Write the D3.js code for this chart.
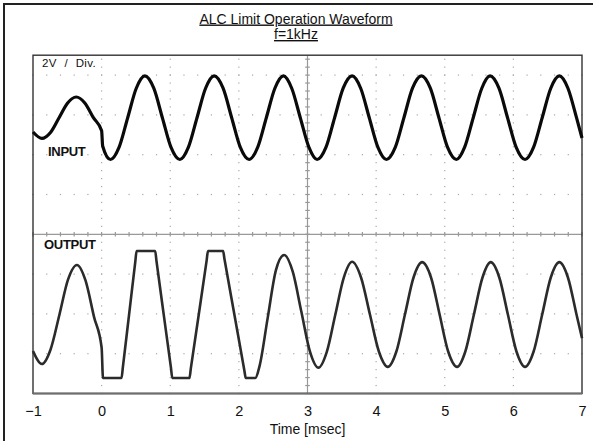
<!DOCTYPE html>
<html>
<head>
<meta charset="utf-8">
<script src="https://cdn.jsdelivr.net/npm/d3@7"></script>
<style>
  body { margin: 0; background: #fff; }
  text { font-family: "Liberation Sans", Arial, sans-serif; fill: #111; }
</style>
</head>
<body>
<svg id="chart" width="593" height="441"></svg>
<script>
// time in msec, amplitude in screen divisions (2V / Div.)
const xTicks = [-1, 0, 1, 2, 3, 4, 5, 6, 7];
const gridX = [0, 1, 2, 4, 5, 6];
const gridY = [-3, -2, -1, 1, 2, 3, 4];

const inputWave = [
  [-1.00, 2.57], [-0.87, 2.41], [-0.745, 2.56], [-0.62, 2.93], [-0.495, 3.30],
  [-0.37, 3.45], [-0.245, 3.30], [-0.12, 2.93], [0.00, 2.60],
  [0.015, 2.22], [0.13, 1.88], [0.255, 2.19], [0.38, 2.93], [0.505, 3.67], [0.63, 3.98],
  [0.76, 3.67], [0.885, 2.93], [1.01, 2.19], [1.14, 1.88],
  [1.265, 2.19], [1.39, 2.93], [1.515, 3.67], [1.64, 3.98],
  [1.77, 3.67], [1.895, 2.93], [2.02, 2.19], [2.15, 1.88],
  [2.275, 2.19], [2.40, 2.93], [2.525, 3.67], [2.65, 3.98],
  [2.77, 3.67], [2.895, 2.93], [3.02, 2.19], [3.14, 1.88],
  [3.27, 2.19], [3.395, 2.93], [3.52, 3.67], [3.65, 3.98],
  [3.775, 3.67], [3.90, 2.93], [4.025, 2.19], [4.15, 1.88],
  [4.28, 2.19], [4.405, 2.93], [4.53, 3.67], [4.66, 3.98],
  [4.79, 3.67], [4.915, 2.93], [5.04, 2.19], [5.17, 1.88],
  [5.29, 2.19], [5.415, 2.93], [5.54, 3.67], [5.66, 3.98],
  [5.79, 3.67], [5.915, 2.93], [6.04, 2.19], [6.17, 1.88],
  [6.295, 2.19], [6.42, 2.93], [6.545, 3.67], [6.67, 3.98],
  [6.795, 3.67], [6.92, 2.93], [7.00, 2.42]
];

const outputWave = [
  [-1.00, -2.93], [-0.87, -3.26], [-0.745, -2.90], [-0.615, -2.02], [-0.49, -1.14],
  [-0.36, -0.77], [-0.235, -1.16], [-0.11, -2.08], [0.00, -2.85],
  [0.02, -3.61], [0.29, -3.61], [0.31, -3.33], [0.40, -2.02], [0.49, -0.70], [0.51, -0.42],
  [0.78, -0.42], [0.80, -0.68], [0.905, -2.02], [1.01, -3.35], [1.03, -3.61],
  [1.28, -3.61], [1.30, -3.37], [1.415, -2.02], [1.53, -0.66], [1.55, -0.42],
  [1.77, -0.42], [1.79, -0.62], [1.935, -2.02], [2.08, -3.42], [2.10, -3.61],
  [2.24, -3.61], [2.30, -3.32], [2.42, -2.10], [2.54, -0.90], [2.66, -0.52],
  [2.785, -0.94], [2.91, -1.94], [3.035, -2.94], [3.16, -3.35],
  [3.28, -2.96], [3.405, -2.02], [3.53, -1.08], [3.65, -0.69],
  [3.78, -1.085], [3.91, -2.015], [4.04, -2.945], [4.17, -3.33],
  [4.295, -2.945], [4.42, -2.015], [4.545, -1.085], [4.67, -0.70],
  [4.80, -1.085], [4.925, -2.015], [5.05, -2.945], [5.18, -3.33],
  [5.30, -2.945], [5.425, -2.015], [5.55, -1.085], [5.67, -0.70],
  [5.795, -1.085], [5.92, -2.015], [6.045, -2.945], [6.17, -3.33],
  [6.295, -2.945], [6.42, -2.015], [6.545, -1.085], [6.67, -0.70],
  [6.795, -1.085], [6.92, -2.015], [7.00, -2.61]
];

const svg = d3.select("#chart");
const PLOT = { left: 33, right: 582, top: 55.2, bottom: 393.5 };

const x = d3.scaleLinear().domain([-1, 7]).range([PLOT.left, PLOT.right]);
const y = d3.scaleLinear().domain([-4, 4.5]).range([PLOT.bottom, PLOT.top]);

// outer box (only top and left edge visible)
svg.append("path")
  .attr("d", "M4,441V4H593")
  .attr("fill", "none")
  .attr("stroke", "#222")
  .attr("stroke-width", 2);

// title
const title = svg.append("g").attr("text-anchor", "middle").attr("font-size", 14);
title.append("text").attr("x", 296).attr("y", 23.5)
  .attr("text-decoration", "underline").text("ALC Limit Operation Waveform");
title.append("text").attr("x", 296).attr("y", 39)
  .attr("text-decoration", "underline").text("f=1kHz");

// dotted grid
const dots = svg.append("g").attr("fill", "#a8a8a8");
for (const gx of gridX) {
  dots.selectAll(null)
    .data(d3.range(-4, 4.5, 0.2))
    .enter().append("rect")
    .attr("x", x(gx) - 0.6).attr("y", (d) => y(d) - 0.6)
    .attr("width", 1.2).attr("height", 1.2);
}
for (const gy of gridY) {
  dots.selectAll(null)
    .data(d3.range(-1, 7.01, 0.2))
    .enter().append("rect")
    .attr("x", (d) => x(d) - 0.6).attr("y", y(gy) - 0.6)
    .attr("width", 1.2).attr("height", 1.2);
}

// center cross with minor ticks
const cross = svg.append("g").attr("stroke", "#999").attr("stroke-width", 1.2);
cross.append("line")
  .attr("x1", PLOT.left).attr("x2", PLOT.right)
  .attr("y1", y(0)).attr("y2", y(0));
cross.append("line")
  .attr("x1", x(3)).attr("x2", x(3))
  .attr("y1", PLOT.top).attr("y2", PLOT.bottom);
cross.selectAll(null)
  .data(d3.range(-1, 7.01, 0.2))
  .enter().append("line")
  .attr("x1", (d) => x(d)).attr("x2", (d) => x(d))
  .attr("y1", y(0) - 2.2).attr("y2", y(0) + 2.2);
cross.selectAll(null)
  .data(d3.range(-4, 4.5, 0.2))
  .enter().append("line")
  .attr("x1", x(3) - 2.3).attr("x2", x(3) + 2.3)
  .attr("y1", (d) => y(d)).attr("y2", (d) => y(d));

// plot frame
svg.append("rect")
  .attr("x", PLOT.left).attr("y", PLOT.top)
  .attr("width", PLOT.right - PLOT.left).attr("height", PLOT.bottom - PLOT.top)
  .attr("fill", "none").attr("stroke", "#333").attr("stroke-width", 1.4);
svg.append("line")
  .attr("x1", PLOT.left).attr("x2", PLOT.right)
  .attr("y1", PLOT.bottom).attr("y2", PLOT.bottom)
  .attr("stroke", "#6e6e6e").attr("stroke-width", 2);

// waveforms
const line = d3.line()
  .x((d) => x(d[0]))
  .y((d) => y(d[1]))
  .curve(d3.curveMonotoneX);

svg.append("path")
  .datum(outputWave)
  .attr("d", line)
  .attr("fill", "none")
  .attr("stroke", "#2b2b2b")
  .attr("stroke-width", 2.6)
  .attr("stroke-linejoin", "round");

svg.append("path")
  .datum(inputWave)
  .attr("d", line)
  .attr("fill", "none")
  .attr("stroke", "#0a0a0a")
  .attr("stroke-width", 3.2)
  .attr("stroke-linejoin", "round");

// labels inside plot
svg.append("text")
  .attr("x", 42).attr("y", 67)
  .attr("font-size", 11.5)
  .attr("word-spacing", 4)
  .attr("letter-spacing", 0.4)
  .text("2V / Div.");

svg.append("text")
  .attr("x", 48).attr("y", 156)
  .attr("font-size", 13).attr("font-weight", "bold")
  .attr("letter-spacing", -0.3)
  .text("INPUT");

svg.append("text")
  .attr("x", 44).attr("y", 249)
  .attr("font-size", 13).attr("font-weight", "bold")
  .attr("letter-spacing", -0.3)
  .text("OUTPUT");

// x axis labels
const xAxis = d3.axisBottom(x)
  .tickValues(xTicks)
  .tickFormat((d) => (d < 0 ? "\u2212" + -d : d))
  .tickSize(0)
  .tickPadding(12);

const gx = svg.append("g")
  .attr("transform", `translate(0,${PLOT.bottom})`)
  .call(xAxis);
gx.select(".domain").remove();
gx.selectAll("text")
  .attr("font-size", 14.5)
  .attr("font-family", "'Liberation Sans', Arial, sans-serif")
  .attr("fill", "#111");

svg.append("text")
  .attr("x", x(3)).attr("y", 434)
  .attr("text-anchor", "middle")
  .attr("font-size", 14)
  .text("Time [msec]");
</script>
</body>
</html>
